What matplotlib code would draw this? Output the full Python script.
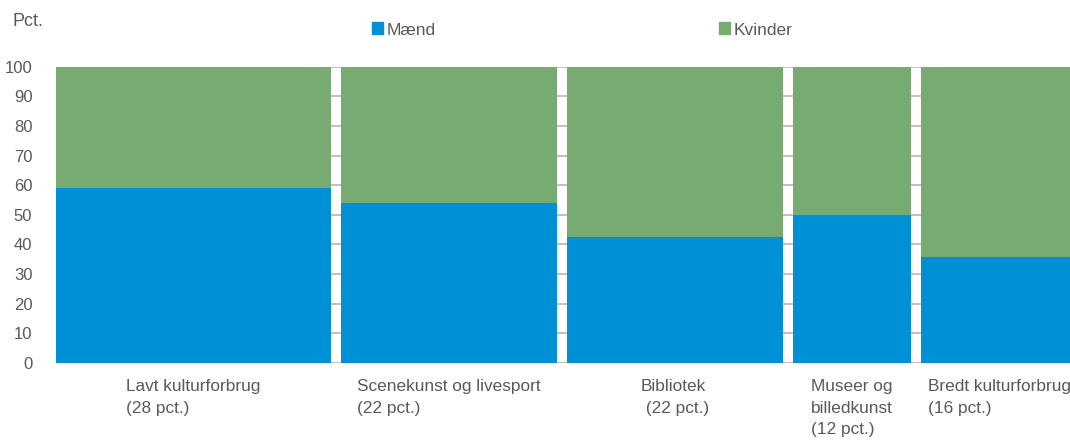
import numpy as np
import matplotlib.pyplot as plt
from matplotlib.patches import Patch

# data
groups = ['Lavt kulturforbrug\n(28 pct.)', 'Scenekunst og livesport\n(22 pct.)',
          'Bibliotek\n (22 pct.)', 'Museer og\nbilledkunst\n(12 pct.)',
          'Bredt kulturforbrug\n(16 pct.)']
shares = [28, 22, 22, 12, 16]
maend = [59, 54, 42.5, 50, 35.7]
kvinder = [100 - m for m in maend]

blue = '#0090d5'
green = '#78ab71'
txt = '#595959'

plt.rcParams['font.family'] = ['Liberation Sans', 'DejaVu Sans']

fig = plt.figure(figsize=(10.7, 4.41), dpi=100)
gap = 1.02
ax = fig.add_axes([56 / 1070, 1 - 362.7 / 441, 1022 / 1070, 296 / 441])

widths = np.array(shares, dtype=float)
lefts = np.concatenate([[0], np.cumsum(widths + gap)[:-1]])

ax.bar(lefts, maend, width=widths, align='edge', color=blue, zorder=2)
ax.bar(lefts, kvinder, width=widths, bottom=maend, align='edge', color=green, zorder=2)

ax.set_xlim(0, widths.sum() + gap * (len(widths) - 1))
ax.set_ylim(0, 100)
ax.set_yticks(np.arange(0, 101, 10))
ax.yaxis.grid(True, color='#bdbdb2', linewidth=1.3, zorder=0)
ax.set_axisbelow(True)
ax.tick_params(axis='y', length=0, pad=17, labelsize=12, labelcolor=txt)
ax.tick_params(axis='x', length=0)
ax.set_xticks([])
for s in ax.spines.values():
    s.set_visible(False)

# labels sit under the middle of each bar, lines left-aligned
for l, w, g in zip(lefts, widths, groups):
    ax.text(l + w / 2, -5.6, g, ha='center', va='top', multialignment='left',
            fontsize=12.4, color=txt, linespacing=1.55)

fig.text(13 / 1070, 1 - 22 / 441, 'Pct.', fontsize=13, color=txt, va='center', ha='left')

leg1 = fig.legend(handles=[Patch(color=blue, label='Mænd')], loc='center left',
                  bbox_to_anchor=(356 / 1070, 1 - 30 / 441), frameon=False,
                  handlelength=0.68, handleheight=0.68, handletextpad=0.2,
                  prop={'size': 12.5}, labelcolor=txt)
leg2 = fig.legend(handles=[Patch(color=green, label='Kvinder')], loc='center left',
                  bbox_to_anchor=(703 / 1070, 1 - 30 / 441), frameon=False,
                  handlelength=0.68, handleheight=0.68, handletextpad=0.2,
                  prop={'size': 12.5}, labelcolor=txt)

plt.savefig('out.png', dpi=100)
